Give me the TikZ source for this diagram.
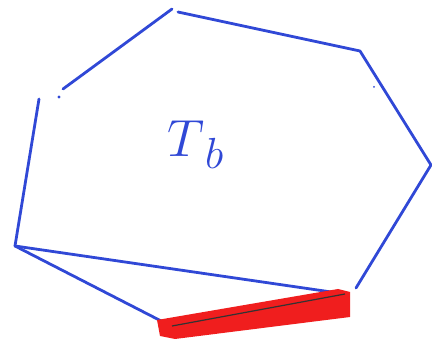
\documentclass[tikz,border=0pt]{standalone}
\definecolor{penblue}{RGB}{48,72,214}
\definecolor{penred}{RGB}{240,30,30}
\begin{document}
\begin{tikzpicture}[x=1pt,y=-1pt,
    pen/.style={penblue, line width=2.8pt, line cap=round, line join=round}]
  \useasboundingbox (0,0) rectangle (432,342);
  % Vertices
  \coordinate (top) at (172,9);
  \coordinate (topR) at (178,12);
  \coordinate (ne) at (360,51);
  \coordinate (east) at (431,165);
  \coordinate (se) at (356,288);
  \coordinate (sw) at (345,294);
  \coordinate (south) at (167,324);
  \coordinate (west) at (15,246);
  \coordinate (nwA) at (39,99);
  \coordinate (nwB) at (63,89);
  % Upper outline
  \draw[pen] (nwB) -- (top);
  \draw[pen] (topR) -- (ne) -- (east) -- (se);
  \draw[pen] (nwA) -- (west) -- (south);
  \draw[pen] (west) -- (sw);
  % Stray dots
  \fill[penblue] (59,97) circle (1.6);
  \fill[penblue] (374,87) circle (1);
  % Red edge
  \fill[penred] (157,320) -- (338,289) -- (350,292) -- (350,317) -- (175,339) -- (160,336) -- cycle;
  \draw[black!80, line width=1.2pt] (172,326) -- (345,294);
  % Label
  \node[penblue, font=\Huge, scale=2.1] (lbl) at (196,145) {$T_{\,b}$};
\end{tikzpicture}
\end{document}
